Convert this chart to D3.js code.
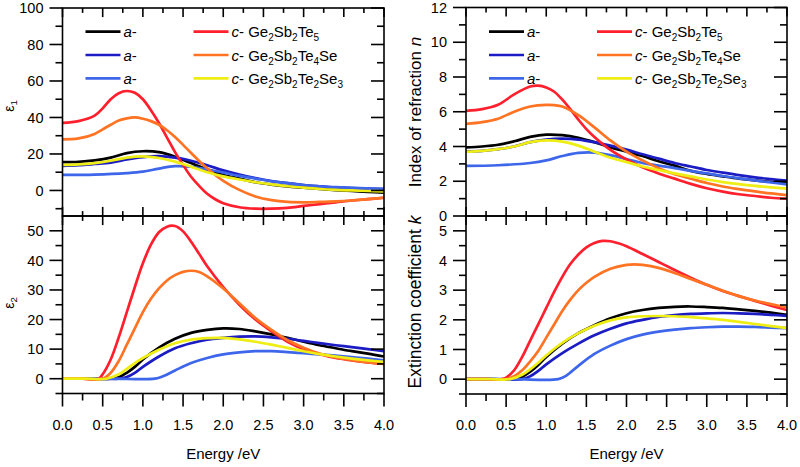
<!DOCTYPE html>
<html><head><meta charset="utf-8">
<script src="https://cdn.jsdelivr.net/npm/d3@7"></script>
<style>body{margin:0;background:#fff} text{font-family:"Liberation Sans",Arial,sans-serif;fill:#000}</style>
</head><body><svg id="c" width="800" height="467"></svg>
<script>
// ---------- data ----------
const energyTicks = [0, 0.5, 1, 1.5, 2, 2.5, 3, 3.5, 4];
const energyMinor = [0.25, 0.75, 1.25, 1.75, 2.25, 2.75, 3.25, 3.75];
const seriesColors = ["#000000", "#1c1cc4", "#3d66ea", "#ff1f2d", "#ff7322", "#eeee14"];

// epsilon 1
const eps1Black = [[0,15.5],[0.2,15.7],[0.4,16.5],[0.6,18],[0.8,20.5],[1.0,21.5],[1.2,21],[1.4,18.5],[1.6,15],[1.8,11.5],[2.0,8.5],[2.2,6.5],[2.4,4.5],[2.6,3.2],[2.8,2.2],[3.0,1.5],[3.2,0.8],[3.4,0.2],[3.6,-0.3],[3.8,-0.8],[4.0,-1.2]];
const eps1Navy = [[0,13.5],[0.2,13.8],[0.4,14.5],[0.6,15.3],[0.8,17],[1.0,18.3],[1.2,18.8],[1.4,18],[1.6,16.3],[1.8,13.8],[2.0,11],[2.2,8.7],[2.4,6.8],[2.6,5.2],[2.8,4],[3.0,3],[3.2,2.3],[3.4,1.7],[3.6,1.3],[3.8,1],[4.0,0.8]];
const eps1Royal = [[0,8.5],[0.4,8.7],[0.8,9.5],[1.0,10.3],[1.2,12],[1.4,13.3],[1.6,13],[1.8,11.5],[2.0,9.8],[2.2,8],[2.4,6.5],[2.6,5],[2.8,4],[3.0,3],[3.2,2.3],[3.4,1.8],[3.6,1.4],[3.8,1.1],[4.0,0.9]];
const eps1Red = [[0,37],[0.2,38],[0.4,41],[0.5,45],[0.6,50],[0.7,53.3],[0.8,54.5],[0.9,53.5],[1.0,50],[1.1,44],[1.2,37],[1.3,29],[1.4,21],[1.5,14],[1.6,7.5],[1.7,2.5],[1.8,-1.8],[1.9,-4.8],[2.0,-7],[2.2,-9.2],[2.4,-10],[2.6,-10],[2.8,-9.5],[3.0,-8.5],[3.2,-7.5],[3.4,-6.5],[3.6,-5.5],[3.8,-4.8],[4.0,-4]];
const eps1Orange = [[0,28],[0.2,28.5],[0.4,31],[0.5,33.5],[0.6,36],[0.7,38.3],[0.8,39.5],[0.9,40],[1.0,39.3],[1.1,38],[1.2,36],[1.3,33],[1.4,29.3],[1.5,25],[1.6,20.5],[1.7,16.2],[1.8,12.2],[1.9,8.5],[2.0,5.3],[2.2,0.3],[2.4,-3.3],[2.6,-5.3],[2.8,-6.3],[3.0,-6.5],[3.2,-6.3],[3.4,-6],[3.6,-5.5],[3.8,-4.8],[4.0,-4]];
const eps1Yellow = [[0,14],[0.2,14.3],[0.4,15],[0.6,16.3],[0.8,18],[1.0,18.7],[1.2,17.8],[1.4,15.8],[1.6,13],[1.8,10],[2.0,7.7],[2.2,6],[2.4,4.5],[2.6,3.3],[2.8,2.3],[3.0,1.5],[3.2,0.8],[3.4,0.3],[3.6,0],[3.8,-0.3],[4.0,-0.5]];
const eps1Ticks = [0, 20, 40, 60, 80, 100];
const eps1Minor = [-10, 10, 30, 50, 70, 90];

// epsilon 2
const eps2Black = [[0,0],[0.3,0],[0.6,0],[0.7,0.5],[0.8,2],[0.9,4],[1.0,6.5],[1.2,10.5],[1.4,13.5],[1.6,15.5],[1.8,16.5],[2.0,17],[2.2,16.8],[2.4,16],[2.6,15],[2.8,13.8],[3.0,12.5],[3.2,11.3],[3.4,10.3],[3.6,9.3],[3.8,8.5],[4.0,7.5]];
const eps2Navy = [[0,0],[0.35,0],[0.7,0],[0.8,0.6],[0.9,2],[1.0,4],[1.2,7.5],[1.4,10.3],[1.6,12],[1.8,13.2],[2.0,13.8],[2.2,14.2],[2.4,14.3],[2.6,14],[2.8,13.5],[3.0,12.8],[3.2,12],[3.4,11.3],[3.6,10.7],[3.8,10],[4.0,9.3]];
const eps2Royal = [[0,0],[0.6,0],[1.15,0],[1.25,0.8],[1.4,2.8],[1.6,5.3],[1.8,7],[2.0,8.2],[2.2,8.9],[2.4,9.3],[2.6,9.3],[2.8,9],[3.0,8.6],[3.2,8.2],[3.4,7.8],[3.6,7.3],[3.8,6.8],[4.0,6.2]];
const eps2Red = [[0,0],[0.25,0],[0.45,0],[0.5,1.5],[0.6,6.5],[0.7,14],[0.8,22.5],[0.9,31],[1.0,39],[1.1,45.3],[1.2,49.5],[1.3,51.4],[1.4,51.6],[1.5,49.8],[1.6,46.3],[1.7,42.2],[1.8,38],[2.0,31],[2.2,25],[2.4,20],[2.6,16],[2.8,12.5],[3.0,10],[3.2,8.3],[3.4,7],[3.6,6.2],[3.8,5.5],[4.0,5]];
const eps2Orange = [[0,0],[0.25,0],[0.5,0],[0.6,2],[0.7,6],[0.8,11.5],[0.9,17],[1.0,22.5],[1.1,27],[1.2,30.5],[1.3,33.2],[1.4,35],[1.5,36.1],[1.6,36.5],[1.7,36.1],[1.8,34.6],[2.0,30.5],[2.2,25.5],[2.4,20.5],[2.6,16.5],[2.8,13],[3.0,10.5],[3.2,8.5],[3.4,7.2],[3.6,6.3],[3.8,5.5],[4.0,5]];
const eps2Yellow = [[0,0],[0.3,0],[0.55,0],[0.7,1.5],[0.8,3.3],[0.9,5.3],[1.0,7],[1.2,9.8],[1.4,12],[1.6,13.2],[1.8,13.7],[2.0,13.8],[2.2,13.3],[2.4,12.5],[2.6,11.5],[2.8,10.4],[3.0,9.3],[3.2,8.3],[3.4,7.5],[3.6,6.8],[3.8,6.2],[4.0,5.7]];
const eps2Ticks = [0, 10, 20, 30, 40, 50];
const eps2Minor = [-5, 5, 15, 25, 35, 45];

// refractive index n
const nBlack = [[0,3.95],[0.2,4.0],[0.4,4.1],[0.6,4.3],[0.8,4.55],[1.0,4.68],[1.2,4.65],[1.4,4.5],[1.6,4.25],[1.8,3.95],[2.0,3.7],[2.2,3.45],[2.4,3.15],[2.6,2.9],[2.8,2.6],[3.0,2.42],[3.2,2.28],[3.4,2.15],[3.6,2.05],[3.8,1.97],[4.0,1.92]];
const nNavy = [[0,3.72],[0.2,3.75],[0.4,3.85],[0.6,4.0],[0.8,4.25],[1.0,4.4],[1.2,4.45],[1.4,4.4],[1.6,4.25],[1.8,4.05],[2.0,3.82],[2.2,3.55],[2.4,3.3],[2.6,3.05],[2.8,2.85],[3.0,2.65],[3.2,2.5],[3.4,2.35],[3.6,2.22],[3.8,2.12],[4.0,2.03]];
const nRoyal = [[0,2.88],[0.4,2.92],[0.8,3.05],[1.0,3.2],[1.2,3.45],[1.4,3.63],[1.6,3.65],[1.8,3.5],[2.0,3.28],[2.2,3.05],[2.4,2.9],[2.6,2.76],[2.8,2.6],[3.0,2.45],[3.2,2.3],[3.4,2.17],[3.6,2.05],[3.8,1.93],[4.0,1.82]];
const nRed = [[0,6.05],[0.2,6.15],[0.4,6.4],[0.6,7.0],[0.8,7.45],[0.9,7.5],[1.0,7.4],[1.1,7.15],[1.2,6.7],[1.3,6.15],[1.4,5.55],[1.5,5.0],[1.6,4.55],[1.8,3.8],[2.0,3.25],[2.2,2.8],[2.4,2.45],[2.6,2.15],[2.8,1.85],[3.0,1.6],[3.2,1.4],[3.4,1.25],[3.6,1.15],[3.8,1.05],[4.0,1.0]];
const nOrange = [[0,5.3],[0.2,5.4],[0.4,5.6],[0.6,6.0],[0.8,6.3],[1.0,6.4],[1.1,6.38],[1.2,6.3],[1.4,5.8],[1.6,5.1],[1.8,4.35],[2.0,3.7],[2.2,3.2],[2.4,2.75],[2.6,2.4],[2.8,2.15],[3.0,1.9],[3.2,1.7],[3.4,1.55],[3.6,1.42],[3.8,1.3],[4.0,1.2]];
const nYellow = [[0,3.7],[0.2,3.75],[0.4,3.85],[0.6,4.0],[0.8,4.25],[1.0,4.35],[1.2,4.28],[1.4,4.05],[1.6,3.7],[1.8,3.35],[2.0,3.1],[2.2,2.85],[2.4,2.65],[2.6,2.45],[2.8,2.28],[3.0,2.1],[3.2,1.95],[3.4,1.83],[3.6,1.73],[3.8,1.65],[4.0,1.58]];
const nTicks = [0, 2, 4, 6, 8, 10, 12];
const nMinor = [1, 3, 5, 7, 9, 11];

// extinction coefficient k
const kBlack = [[0,0],[0.3,0],[0.6,0],[0.7,0.08],[0.8,0.25],[0.9,0.48],[1.0,0.75],[1.2,1.2],[1.4,1.55],[1.6,1.82],[1.8,2.05],[2.0,2.22],[2.2,2.33],[2.4,2.4],[2.6,2.44],[2.8,2.45],[3.0,2.43],[3.2,2.4],[3.4,2.35],[3.6,2.3],[3.8,2.24],[4.0,2.17]];
const kNavy = [[0,0],[0.35,0],[0.7,0],[0.8,0.1],[0.9,0.28],[1.0,0.5],[1.2,0.88],[1.4,1.2],[1.6,1.48],[1.8,1.7],[2.0,1.88],[2.2,2.0],[2.4,2.1],[2.6,2.16],[2.8,2.2],[3.0,2.22],[3.2,2.23],[3.4,2.22],[3.6,2.2],[3.8,2.17],[4.0,2.13]];
const kRoyal = [[0,0],[0.6,0],[1.15,0],[1.25,0.12],[1.4,0.45],[1.6,0.85],[1.8,1.13],[2.0,1.35],[2.2,1.5],[2.4,1.6],[2.6,1.67],[2.8,1.72],[3.0,1.75],[3.2,1.77],[3.4,1.77],[3.6,1.76],[3.8,1.74],[4.0,1.72]];
const kRed = [[0,0],[0.25,0],[0.45,0],[0.5,0.05],[0.6,0.3],[0.7,0.75],[0.8,1.3],[0.9,1.85],[1.0,2.4],[1.1,2.95],[1.2,3.45],[1.3,3.88],[1.4,4.2],[1.5,4.44],[1.6,4.59],[1.7,4.66],[1.8,4.65],[1.9,4.58],[2.0,4.48],[2.2,4.22],[2.4,3.95],[2.6,3.68],[2.8,3.42],[3.0,3.18],[3.2,2.97],[3.4,2.8],[3.6,2.64],[3.8,2.48],[4.0,2.33]];
const kOrange = [[0,0],[0.25,0],[0.5,0],[0.6,0.1],[0.7,0.3],[0.8,0.6],[0.9,0.95],[1.0,1.4],[1.1,1.85],[1.2,2.3],[1.3,2.68],[1.4,3.0],[1.5,3.25],[1.6,3.45],[1.8,3.72],[2.0,3.85],[2.1,3.87],[2.2,3.85],[2.4,3.75],[2.6,3.58],[2.8,3.38],[3.0,3.18],[3.2,2.98],[3.4,2.8],[3.6,2.65],[3.8,2.53],[4.0,2.42]];
const kYellow = [[0,0],[0.3,0],[0.55,0],[0.7,0.15],[0.8,0.33],[0.9,0.55],[1.0,0.8],[1.2,1.22],[1.4,1.55],[1.6,1.8],[1.8,1.98],[2.0,2.08],[2.2,2.12],[2.4,2.13],[2.6,2.12],[2.8,2.09],[3.0,2.05],[3.2,2.0],[3.4,1.93],[3.6,1.86],[3.8,1.79],[4.0,1.72]];
const kTicks = [0, 1, 2, 3, 4, 5];
const kMinor = [-0.5, 0.5, 1.5, 2.5, 3.5, 4.5];

// legend
const legendAmorphous = ["a-", "a-", "a-"];
const legendCrystalline = [
  [["Ge",""],["2","sub"],["Sb",""],["2","sub"],["Te",""],["5","sub"]],
  [["Ge",""],["2","sub"],["Sb",""],["2","sub"],["Te",""],["4","sub"],["Se",""]],
  [["Ge",""],["2","sub"],["Sb",""],["2","sub"],["Te",""],["2","sub"],["Se",""],["3","sub"]]
];

// ---------- drawing ----------
const svg = d3.select("#c");
const panels = [
  {id:"p1", x0:62.5, x1:384, y0:8, y1:216, dom:[-14,100], ticks:eps1Ticks, minor:eps1Minor,
   series:[eps1Black,eps1Navy,eps1Royal,eps1Red,eps1Orange,eps1Yellow], xlabels:false, legend:true},
  {id:"p2", x0:62.5, x1:384, y0:216, y1:393.5, dom:[-5,55], ticks:eps2Ticks, minor:eps2Minor,
   series:[eps2Black,eps2Navy,eps2Royal,eps2Red,eps2Orange,eps2Yellow], xlabels:true},
  {id:"p3", x0:466, x1:787, y0:7.5, y1:216, dom:[0,12], ticks:nTicks, minor:nMinor,
   series:[nBlack,nNavy,nRoyal,nRed,nOrange,nYellow], xlabels:false, legend:true},
  {id:"p4", x0:466, x1:787, y0:216, y1:394, dom:[-0.5,5.5], ticks:kTicks, minor:kMinor,
   series:[kBlack,kNavy,kRoyal,kRed,kOrange,kYellow], xlabels:true}
];
const MAJ = 13, MIN = 7;

panels.forEach(p => {
  const x = d3.scaleLinear().domain([0,4]).range([p.x0,p.x1]);
  const y = d3.scaleLinear().domain(p.dom).range([p.y1,p.y0]);
  const g = svg.append("g");
  g.append("clipPath").attr("id","clip-"+p.id).append("rect")
    .attr("x",p.x0).attr("y",p.y0).attr("width",p.x1-p.x0).attr("height",p.y1-p.y0);

  const line = d3.line().x(d=>x(d[0])).y(d=>y(d[1])).curve(d3.curveCatmullRom.alpha(0.5));
  const cg = g.append("g").attr("clip-path","url(#clip-"+p.id+")");
  p.series.forEach((s,i) => {
    cg.append("path").datum(s).attr("d",line).attr("fill","none")
      .attr("stroke",seriesColors[i]).attr("stroke-width",2.7).attr("stroke-linejoin","round");
  });

  // frame
  g.append("rect").attr("x",p.x0).attr("y",p.y0).attr("width",p.x1-p.x0).attr("height",p.y1-p.y0)
    .attr("fill","none").attr("stroke","#000").attr("stroke-width",1.6);

  const tk = g.append("g").attr("stroke","#000").attr("stroke-width",1.6);
  // y ticks: left outward, right inward
  const yt = p.ticks.map(v=>[v,MAJ]).concat(p.minor.map(v=>[v,MIN]));
  yt.forEach(([v,len]) => {
    const yy = y(v);
    tk.append("line").attr("x1",p.x0-len).attr("x2",p.x0).attr("y1",yy).attr("y2",yy);
    tk.append("line").attr("x1",p.x1-len).attr("x2",p.x1).attr("y1",yy).attr("y2",yy);
  });
  // x ticks
  const xt = energyTicks.map(v=>[v,MAJ]).concat(energyMinor.map(v=>[v,MIN]));
  xt.forEach(([v,len]) => {
    const xx = x(v);
    tk.append("line").attr("x1",xx).attr("x2",xx).attr("y1",p.y0).attr("y2",p.y0+len*0.7);
    if (p.xlabels) {
      tk.append("line").attr("x1",xx).attr("x2",xx).attr("y1",p.y1).attr("y2",p.y1+len);
    } else {
      tk.append("line").attr("x1",xx).attr("x2",xx).attr("y1",p.y1).attr("y2",p.y1-len*0.7);
    }
  });
  // y labels
  g.selectAll(null).data(p.ticks).enter().append("text")
    .attr("x",p.x0-19).attr("y",d=>y(d)).attr("dy","0.36em")
    .attr("text-anchor","end").attr("font-size",14.5).text(d=>d);
  if (p.xlabels) {
    g.selectAll(null).data(energyTicks).enter().append("text")
      .attr("x",d=>x(d)).attr("y",430).attr("text-anchor","middle").attr("font-size",14.5)
      .text(d=>d3.format(".1f")(d));
    g.append("text").attr("x",(p.x0+p.x1)/2).attr("y",459).attr("text-anchor","middle")
      .attr("font-size",15).text("Energy /eV");
  }
  if (p.legend) {
    const lx = p.x0 + 23, cx = p.x0 + 131;
    const rows = [31.7, 55, 78.3];
    rows.forEach((ry,i) => {
      g.append("line").attr("x1",lx).attr("x2",lx+35).attr("y1",ry).attr("y2",ry)
        .attr("stroke",seriesColors[i]).attr("stroke-width",2.7);
      const t = g.append("text").attr("x",lx+38).attr("y",ry+5.5).attr("font-size",15);
      t.append("tspan").attr("font-style","italic").text("a");
      t.append("tspan").text("-");
      g.append("line").attr("x1",cx).attr("x2",cx+35).attr("y1",ry).attr("y2",ry)
        .attr("stroke",seriesColors[i+3]).attr("stroke-width",2.7);
      const t2 = g.append("text").attr("x",cx+38).attr("y",ry+5.5).attr("font-size",15);
      t2.append("tspan").attr("font-style","italic").text("c");
      t2.append("tspan").text("- ");
      let sub = false;
      legendCrystalline[i].forEach(([s,kind]) => {
        const ts = t2.append("tspan").text(s);
        if (kind==="sub") { ts.attr("font-size",10).attr("dy",sub?0:4); sub = true; }
        else { if (sub) ts.attr("dy",-4); sub = false; }
      });
    });
  }
});

// axis titles
function rotTitle(x, yc, parts, size) {
  const t = svg.append("text").attr("transform",`translate(${x},${yc}) rotate(-90)`)
    .attr("text-anchor","middle").attr("font-size",size);
  parts.forEach(([s,kind]) => {
    const ts = t.append("tspan").text(s);
    if (kind==="it") ts.attr("font-style","italic");
    if (kind==="sub") ts.attr("font-size",size*0.7).attr("dy",3);
  });
}
rotTitle(14, 106, [["ε",""],["1","sub"]], 14);
rotTitle(14, 303, [["ε",""],["2","sub"]], 14);
rotTitle(421, 112, [["Index of refraction ",""],["n","it"]], 17);
rotTitle(421, 302, [["Extinction coefficient ",""],["k","it"]], 17.5);
</script>
</body></html>
